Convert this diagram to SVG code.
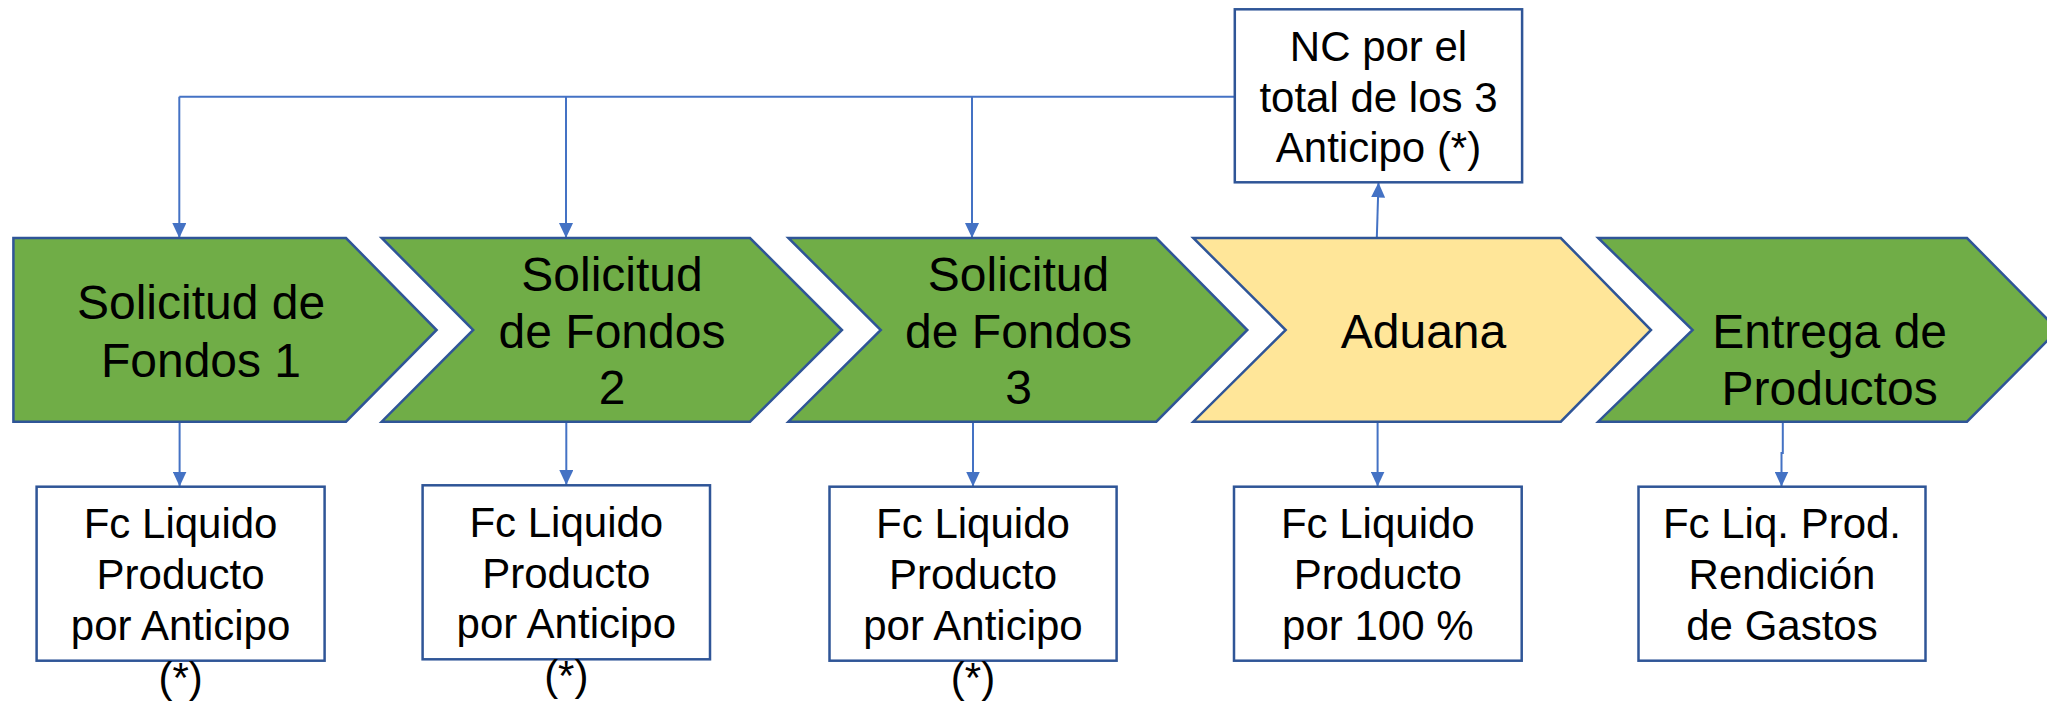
<svg xmlns="http://www.w3.org/2000/svg" width="2047" height="701" viewBox="0 0 2047 701">
<style>
.chev{stroke:#2F5597;stroke-width:2.5;stroke-linejoin:miter}
.green{fill:#70AD47}
.yellow{fill:#FFE699}
.box{fill:#FFFFFF;stroke:#2F5597;stroke-width:2.5}
.conn{fill:none;stroke:#4472C4;stroke-width:2}
text{font-family:"Liberation Sans",Arial,sans-serif;fill:#000;text-anchor:middle}
.big{font-size:48px}
.small{font-size:42px}
</style>
<defs>
<marker id="arr" markerUnits="userSpaceOnUse" viewBox="0 0 15 14" markerWidth="15" markerHeight="14" refX="15" refY="7" orient="auto">
<path d="M0,0 L15,7 L0,14 z" fill="#4472C4"/>
</marker>
</defs>
<rect width="2047" height="701" fill="#FFFFFF"/>
<g id="connectors">
<path class="conn" d="M1235,96.7 H179.3"/>
<path class="conn" d="M179.3,96.7 V238" marker-end="url(#arr)"/>
<path class="conn" d="M566,96.7 V238" marker-end="url(#arr)"/>
<path class="conn" d="M972,96.7 V238" marker-end="url(#arr)"/>
<path class="conn" d="M1376.8,238 L1378.5,182.5" marker-end="url(#arr)"/>
<path class="conn" d="M179.6,421.7 V486.5" marker-end="url(#arr)"/>
<path class="conn" d="M566.3,421.7 V485" marker-end="url(#arr)"/>
<path class="conn" d="M973,421.7 V486.5" marker-end="url(#arr)"/>
<path class="conn" d="M1377.6,421.7 V486.5" marker-end="url(#arr)"/>
<path class="conn" d="M1782.8,421.7 V453 H1781.5 V486.5" marker-end="url(#arr)"/>
</g>
<g id="chevron1">
<polygon class="chev green" points="13.4,238 346,238 436.6,330 346,421.7 13.4,421.7"/>
<text class="big" x="201" y="319.3">Solicitud de</text>
<text class="big" x="201" y="376.7">Fondos 1</text>
</g>
<g id="chevron2">
<polygon class="chev green" points="381.7,238 750,238 842,330 750,421.7 381.7,421.7 473.2,330"/>
<text class="big" x="612" y="291">Solicitud</text>
<text class="big" x="612" y="347.7">de Fondos</text>
<text class="big" x="612" y="404.3">2</text>
</g>
<g id="chevron3">
<polygon class="chev green" points="788.4,238 1156.3,238 1247.3,330 1156.3,421.7 788.4,421.7 880.8,330"/>
<text class="big" x="1018.5" y="291">Solicitud</text>
<text class="big" x="1018.5" y="347.7">de Fondos</text>
<text class="big" x="1018.5" y="404.3">3</text>
</g>
<g id="chevron4">
<polygon class="chev yellow" points="1193.3,238 1560.8,238 1651,330 1560.8,421.7 1193.3,421.7 1285.7,330"/>
<text class="big" x="1423.5" y="347.7">Aduana</text>
</g>
<g id="chevron5">
<polygon class="chev green" points="1598.2,238 1967,238 2058,330 1967,421.7 1598.2,421.7 1692.6,330"/>
<text class="big" x="1829.6" y="347.7">Entrega de</text>
<text class="big" x="1829.6" y="404.7">Productos</text>
</g>
<g id="nc">
<rect class="box" x="1234.8" y="9.3" width="287.3" height="173"/>
<text class="small" x="1378.5" y="61">NC por el</text>
<text class="small" x="1378.5" y="111.5">total de los 3</text>
<text class="small" x="1378.5" y="162.3">Anticipo (*)</text>
</g>
<g id="box1">
<rect class="box" x="36.6" y="486.7" width="288" height="174"/>
<text class="small" x="180.6" y="538.3">Fc Liquido</text>
<text class="small" x="180.6" y="589.3">Producto</text>
<text class="small" x="180.6" y="640">por Anticipo</text>
<text class="small" x="180.6" y="691.5">(*)</text>
</g>
<g id="box2">
<rect class="box" x="422.6" y="485.3" width="287.4" height="174"/>
<text class="small" x="566.3" y="536.7">Fc Liquido</text>
<text class="small" x="566.3" y="587.7">Producto</text>
<text class="small" x="566.3" y="638.3">por Anticipo</text>
<text class="small" x="566.3" y="690">(*)</text>
</g>
<g id="box3">
<rect class="box" x="829.5" y="486.7" width="287.1" height="174"/>
<text class="small" x="973" y="538.3">Fc Liquido</text>
<text class="small" x="973" y="589.3">Producto</text>
<text class="small" x="973" y="640">por Anticipo</text>
<text class="small" x="973" y="691.5">(*)</text>
</g>
<g id="box4">
<rect class="box" x="1234" y="486.7" width="287.7" height="174"/>
<text class="small" x="1377.8" y="538.3">Fc Liquido</text>
<text class="small" x="1377.8" y="589.3">Producto</text>
<text class="small" x="1377.8" y="640">por 100 %</text>
</g>
<g id="box5">
<rect class="box" x="1638.5" y="486.7" width="287" height="174"/>
<text class="small" x="1782" y="538.3">Fc Liq. Prod.</text>
<text class="small" x="1782" y="589.3">Rendición</text>
<text class="small" x="1782" y="640">de Gastos</text>
</g>
</svg>
